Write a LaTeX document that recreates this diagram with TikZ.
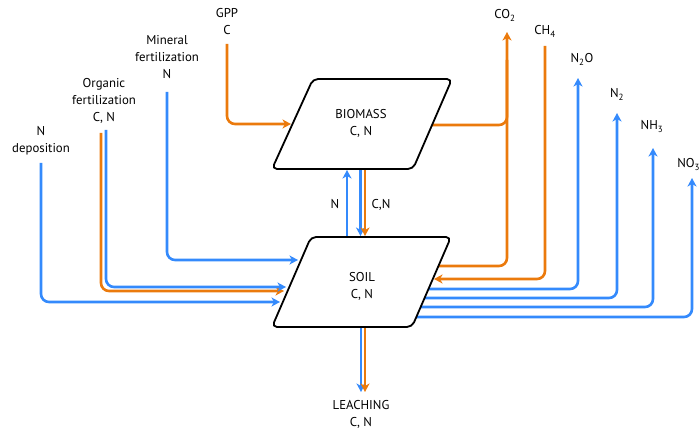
\documentclass[tikz,border=0pt]{standalone}
\usepackage{fontspec}
\setmainfont{PT Sans}
\usetikzlibrary{arrows.meta,calc}
\definecolor{corange}{RGB}{235,122,12}
\definecolor{cblue}{RGB}{52,138,252}
\begin{document}
\begin{tikzpicture}[x=1pt,y=-1pt,
  lbl/.style={font=\fontsize{12.8}{17}\selectfont, align=center, inner sep=0pt, outer sep=0pt},
  flow/.style={line width=2.6pt, rounded corners=8pt},
  cflow/.style={flow, draw=corange},
  nflow/.style={flow, draw=cblue},
  tip/.style={-{Stealth[length=8.5pt,width=9pt,inset=2.5pt]}},
  pool/.style={draw=black, line width=1.8pt, fill=white, rounded corners=5pt, line join=round}]
\useasboundingbox (0,0) rectangle (700,430);

% ---- labels (anchor base = baseline of the last line)
\node[lbl, anchor=base] (gpp) at (227,35) {GPP\\C};
\node[lbl, anchor=base] (min) at (167,79) {Mineral\\fertilization\\N};
\node[lbl, anchor=base] (org) at (104,122) {Organic\\fertilization\\C, N};
\node[lbl, anchor=base] (dep) at (41,153) {N\\deposition};
\node[lbl, anchor=base] (co2) at (505,19) {CO\textsubscript{2}};
\node[lbl, anchor=base] (ch4) at (545,35) {CH\textsubscript{4}};
\node[lbl, anchor=base] (n2o) at (582,63) {N\textsubscript{2}O};
\node[lbl, anchor=base] (n2) at (617,98) {N\textsubscript{2}};
\node[lbl, anchor=base] (nh3) at (652,130) {NH\textsubscript{3}};
\node[lbl, anchor=base east] (no3) at (700,168) {NO\textsubscript{3}};
\node[lbl, anchor=base] (lblN) at (335,208) {N};
\node[lbl, anchor=base] (lblCN) at (381,208) {C,N};
\node[lbl, anchor=base] (leach) at (361,426.5) {LEACHING\\C, N};

% ---- connector end points
\coordinate (gppS) at (227,44);
\coordinate (minS) at (167,92);
\coordinate (orgNS) at (106,130);
\coordinate (orgCS) at (101,133);
\coordinate (depS) at (41,163);
\coordinate (bioL) at (291,124);
\coordinate (soilMin) at (298,260);
\coordinate (soilOrgN) at (286,287);
\coordinate (soilOrgC) at (284,291);
\coordinate (soilDep) at (280,302);
\coordinate (bioCO2) at (432,125);
\coordinate (soilCO2) at (438,266);
\coordinate (co2tip) at (507,32);
\coordinate (co2mid) at (507,60);
\coordinate (ch4S) at (545,46);
\coordinate (soilCH4) at (434,279);
\coordinate (soilN2O) at (428.5,289);
\coordinate (n2otip) at (578,78);
\coordinate (soilN2) at (424.6,298);
\coordinate (n2tip) at (617,113);
\coordinate (soilNH3) at (420.7,307);
\coordinate (nh3tip) at (653,148);
\coordinate (soilNO3) at (416.3,317);
\coordinate (no3tip) at (692,178);
\coordinate (soilTopN) at (347,237);
\coordinate (bioBotN) at (347,170);
\coordinate (bioBotB) at (360.5,169);
\coordinate (soilTopB) at (360.5,236);
\coordinate (bioBotC) at (365,169);
\coordinate (soilTopC) at (365,236);
\coordinate (soilBotB) at (361,327);
\coordinate (leachB) at (361,392);
\coordinate (soilBotC) at (365,327);
\coordinate (leachC) at (365,392);

% ---- inputs
\draw[cflow, tip] (gppS) |- (bioL);
\draw[nflow, tip] (minS) |- (soilMin);
\draw[cflow, tip] (orgCS) |- (soilOrgC);
\draw[nflow, tip] (orgNS) |- (soilOrgN);
\draw[nflow, tip] (depS) |- (soilDep);

% ---- outputs
\draw[cflow] (bioCO2) -| (co2mid);
\draw[cflow, tip] (soilCO2) -| (co2tip);
\draw[cflow, tip] (ch4S) |- (soilCH4);
\draw[nflow, tip] (soilN2O) -| (n2otip);
\draw[nflow, tip] (soilN2) -| (n2tip);
\draw[nflow, tip] (soilNH3) -| (nh3tip);
\draw[nflow, tip] (soilNO3) -| (no3tip);

% ---- internal
\draw[nflow, tip] (soilTopN) -- (bioBotN);
\draw[nflow, tip] (bioBotB) -- (soilTopB);
\draw[cflow, tip] (bioBotC) -- (soilTopC);
\draw[nflow, tip] (soilBotB) -- (leachB);
\draw[cflow, tip] (soilBotC) -- (leachC);

% ---- pools
\draw[pool] (313,79) -- (452,79) -- (413,169) -- (272,169) -- cycle;
\draw[pool] (311,237) -- (451,237) -- (412,327) -- (272,327) -- cycle;
\node[lbl] (bio) at (361,123) {BIOMASS\\C, N};
\node[lbl] (soil) at (362,286) {SOIL\\C, N};
\end{tikzpicture}
\end{document}
